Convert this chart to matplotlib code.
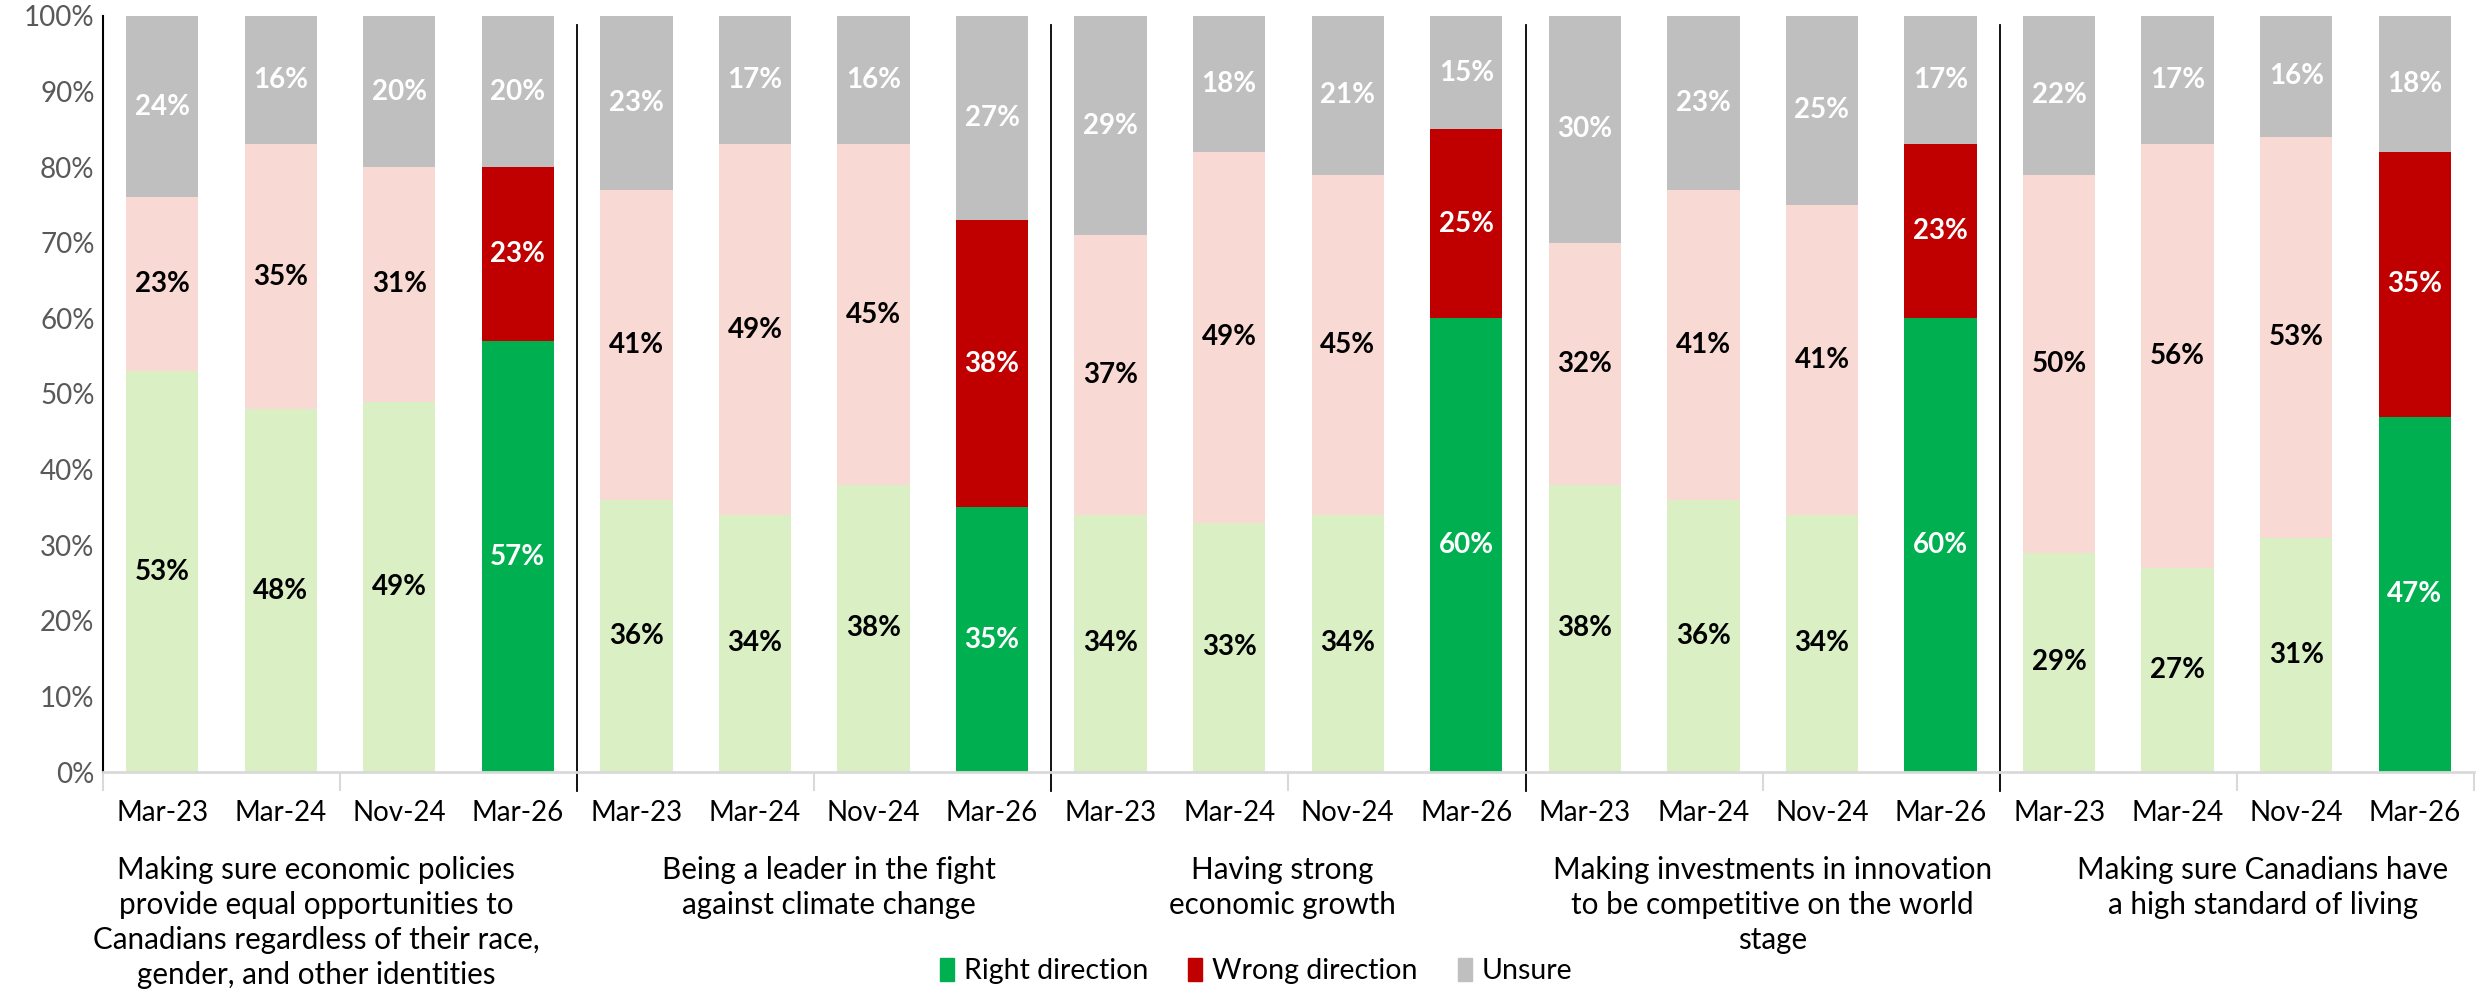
import numpy as np
import matplotlib.pyplot as plt
from matplotlib.patches import Patch
from matplotlib.transforms import blended_transform_factory

plt.rcParams["font.family"] = ["Lato", "DejaVu Sans"]

waves = ["Mar-23", "Mar-24", "Nov-24", "Mar-26"]
groups = [
    "Making sure economic policies\nprovide equal opportunities to\nCanadians regardless of their race,\ngender, and other identities",
    "Being a leader in the fight\nagainst climate change",
    "Having strong\neconomic growth",
    "Making investments in innovation\nto be competitive on the world\nstage",
    "Making sure Canadians have\na high standard of living",
]

right = [53, 48, 49, 57,
         36, 34, 38, 35,
         34, 33, 34, 60,
         38, 36, 34, 60,
         29, 27, 31, 47]
wrong = [23, 35, 31, 23,
         41, 49, 45, 38,
         37, 49, 45, 25,
         32, 41, 41, 23,
         50, 56, 53, 35]
unsure = [24, 16, 20, 20,
          23, 17, 16, 27,
          29, 18, 21, 15,
          30, 23, 25, 17,
          22, 17, 16, 18]

right = np.array(right)
wrong = np.array(wrong)
unsure = np.array(unsure)
n = len(right)
x = np.arange(n)
latest = np.array([i % 4 == 3 for i in range(n)])

light_green, dark_green = "#DAEFC4", "#00B050"
light_red, dark_red = "#F9D9D3", "#C00000"
grey = "#BFBFBF"

fig = plt.figure(figsize=(24.79, 9.94), dpi=100)
ax = fig.add_axes([0.0415, 0.2233, 0.9565, 0.7607])

w = 0.61
c_right = [dark_green if l else light_green for l in latest]
c_wrong = [dark_red if l else light_red for l in latest]
ax.bar(x, right, w, color=c_right)
ax.bar(x, wrong, w, bottom=right, color=c_wrong)
# grey segment runs to the top of the bar (labels are rounded)
top = 100 - right - wrong
ax.bar(x, top, w, bottom=right + wrong, color=grey)

for i in range(n):
    tc = "white" if latest[i] else "black"
    ax.text(x[i], right[i] / 2, f"{right[i]}%", ha="center", va="center",
            fontsize=20, fontweight="bold", color=tc)
    ax.text(x[i], right[i] + wrong[i] / 2, f"{wrong[i]}%", ha="center", va="center",
            fontsize=20, fontweight="bold", color=tc)
    ax.text(x[i], right[i] + wrong[i] + top[i] / 2, f"{unsure[i]}%", ha="center",
            va="center", fontsize=20, fontweight="bold", color="white")

ax.set_xlim(-0.5, n - 0.5)
ax.set_ylim(0, 100)
ax.set_yticks(range(0, 101, 10))
ax.set_yticklabels([f"{v}%" for v in range(0, 101, 10)], fontsize=20, color="#595959")
ax.set_xticks(x)
ax.set_xticklabels(waves * len(groups), fontsize=20, color="black")
ax.tick_params(axis="x", length=0, pad=20)
ax.tick_params(axis="y", length=0, pad=6)
ax.set_xticks(np.arange(-0.5, n, 2), minor=True)
ax.tick_params(axis="x", which="minor", length=14, color="#D9D9D9", width=1.5)

for s in ["top", "right"]:
    ax.spines[s].set_visible(False)
ax.spines["left"].set_color("black")
ax.spines["left"].set_linewidth(1.5)
ax.spines["bottom"].set_color("#D9D9D9")
ax.spines["bottom"].set_linewidth(2)

for b in [3.5, 7.5, 11.5, 15.5]:
    ax.plot([b, b], [-2.5, 98.8], color="black", lw=1.3, clip_on=False)

# group captions, one text per line
caption_x = [1.3, 5.62, 9.45, 13.58, 17.72]
trans = blended_transform_factory(ax.transData, ax.transAxes)
for g, label in enumerate(groups):
    for j, line in enumerate(label.split("\n")):
        ax.text(caption_x[g], -0.1296 - j * 0.0463, line, transform=trans,
                ha="center", va="center", fontsize=21.3)

handles = [Patch(color=dark_green, label="Right direction"),
           Patch(color=dark_red, label="Wrong direction"),
           Patch(color=grey, label="Unsure")]
fig.legend(handles=handles, loc="center", bbox_to_anchor=(0.5067, 0.023), ncol=3,
           frameon=False, fontsize=20.5, handlelength=0.5, handleheight=0.9,
           handletextpad=0.35, columnspacing=1.4, borderpad=0.1)

fig.savefig("out.png", dpi=100)
